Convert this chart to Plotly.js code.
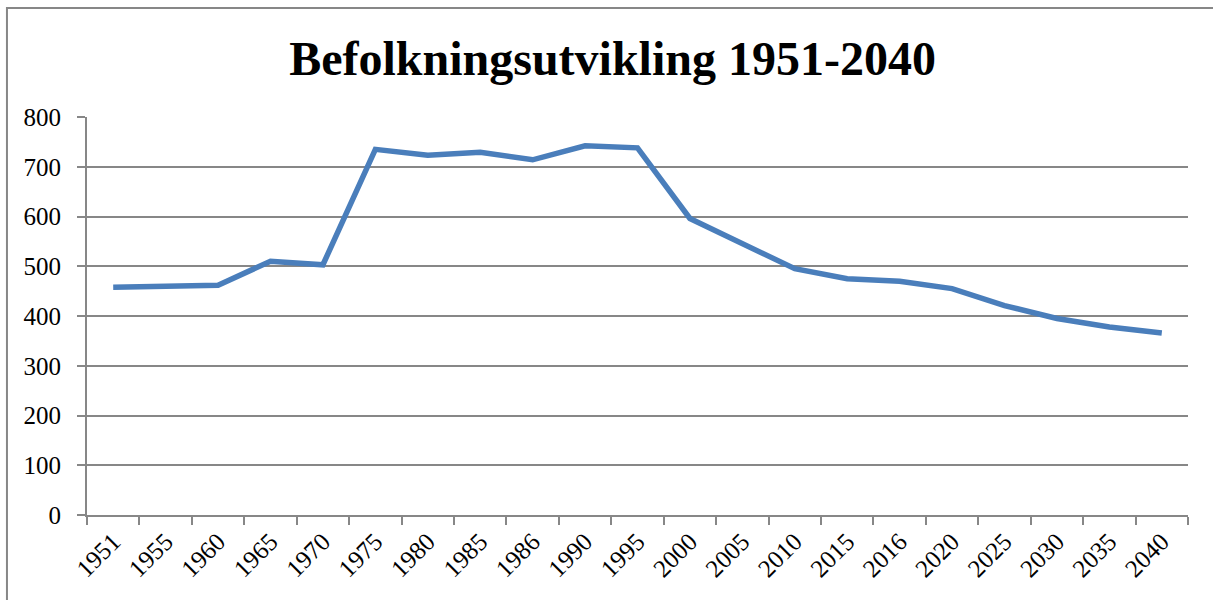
<!DOCTYPE html>
<html>
<head>
<meta charset="utf-8">
<script src="https://cdn.plot.ly/plotly-3.0.1.min.js"></script>
<style>html,body{margin:0;padding:0;background:#fff;}#chart{width:1213px;height:600px;}</style>
</head>
<body>
<div id="chart"></div>
<script>
const years = ["1951","1955","1960","1965","1970","1975","1980","1985","1986","1990","1995","2000","2005","2010","2015","2016","2020","2025","2030","2035","2040"];
const population = [458, 461, 462, 510, 503, 735, 723, 729, 714, 742, 738, 596, 545, 495, 475, 470, 455, 421, 395, 378, 366];
const yTicks = [0, 100, 200, 300, 400, 500, 600, 700, 800];
const titleText = "Befolkningsutvikling 1951-2040";

const gray = "#878787";
const serif = "'Liberation Serif', 'Times New Roman', serif";

const trace = {
  x: years,
  y: population,
  type: "scatter",
  mode: "lines",
  line: {color: "#4a7ebb", width: 5.5},
  hoverinfo: "x+y"
};

const layout = {
  width: 1213,
  height: 600,
  margin: {l: 87, r: 25, t: 117, b: 85, pad: 0},
  paper_bgcolor: "#ffffff",
  plot_bgcolor: "#ffffff",
  showlegend: false,
  font: {family: serif, color: "#000"},
  title: {
    text: "<b>" + titleText + "</b>",
    font: {family: serif, size: 48, color: "#000"},
    x: 0.505, xanchor: "center",
    y: 0.903, yanchor: "middle"
  },
  xaxis: {
    type: "category",
    tickson: "boundaries",
    ticks: "outside",
    ticklen: 8,
    tickwidth: 2,
    tickcolor: gray,
    showline: true,
    linecolor: gray,
    linewidth: 2,
    showgrid: false,
    tickangle: -45,
    tickfont: {family: serif, size: 25, color: "#000"},
    range: [-0.5, years.length - 0.5],
    fixedrange: true
  },
  yaxis: {
    range: [0, 800],
    tickvals: yTicks,
    ticks: "outside",
    ticklen: 8,
    tickwidth: 2,
    tickcolor: gray,
    showline: true,
    linecolor: gray,
    linewidth: 2,
    showgrid: true,
    gridcolor: gray,
    gridwidth: 2,
    zeroline: false,
    ticklabelstandoff: 11,
    tickfont: {family: serif, size: 25, color: "#000"},
    fixedrange: true
  },
  shapes: [{
    type: "rect",
    xref: "paper", yref: "paper",
    x0: -0.0727, x1: 1.03,
    y0: -0.25, y1: 1.274,
    line: {color: gray, width: 2},
    fillcolor: "rgba(0,0,0,0)",
    layer: "below"
  }]
};

Plotly.newPlot("chart", [trace], layout, {displayModeBar: false});
</script>
</body>
</html>
